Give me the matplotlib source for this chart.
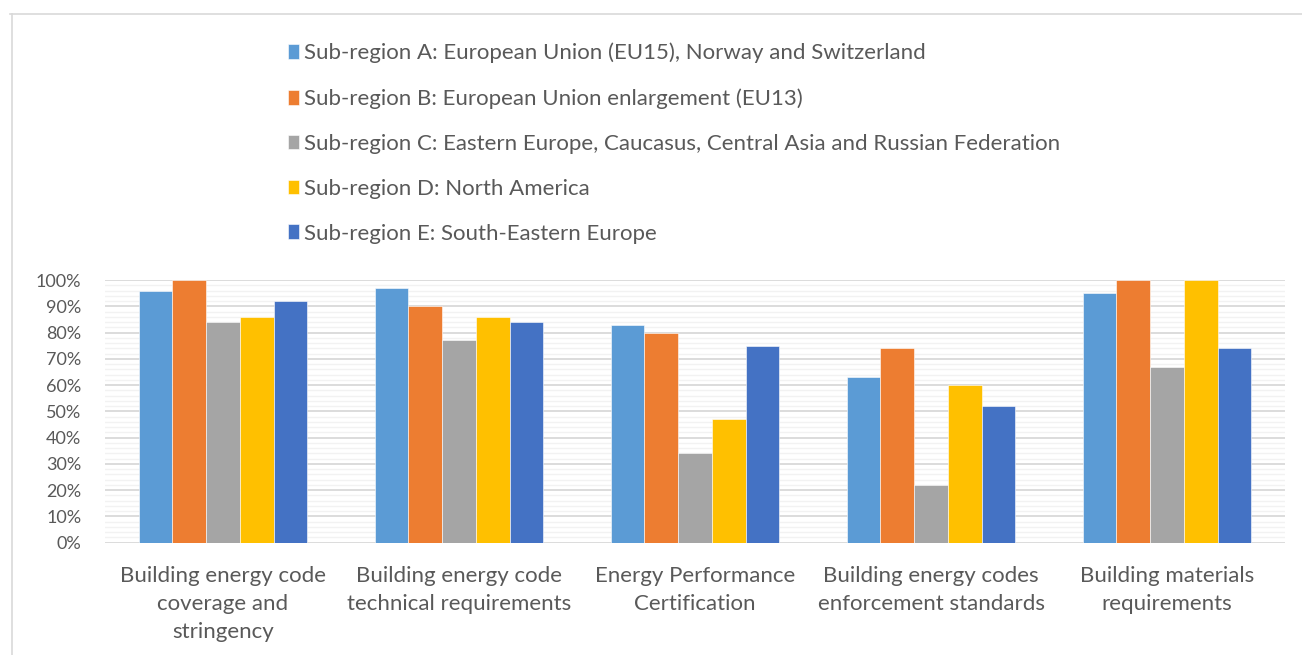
import matplotlib
matplotlib.use("Agg")
import matplotlib.pyplot as plt
from matplotlib.lines import Line2D
from matplotlib.ticker import MultipleLocator, PercentFormatter
import numpy as np

plt.rcParams['font.family'] = ['Lato', 'DejaVu Sans']

categories = ["Building energy code\ncoverage and\nstringency",
              "Building energy code\ntechnical requirements",
              "Energy Performance\nCertification",
              "Building energy codes\nenforcement standards",
              "Building materials\nrequirements"]

series_names = ["Sub-region A: European Union (EU15), Norway and Switzerland",
                "Sub-region B: European Union enlargement (EU13)",
                "Sub-region C: Eastern Europe, Caucasus, Central Asia and Russian Federation",
                "Sub-region D: North America",
                "Sub-region E: South-Eastern Europe"]

sub_a = [0.96, 0.97, 0.83, 0.63, 0.95]
sub_b = [1.00, 0.90, 0.80, 0.74, 1.00]
sub_c = [0.84, 0.77, 0.34, 0.22, 0.67]
sub_d = [0.86, 0.86, 0.47, 0.60, 1.00]
sub_e = [0.92, 0.84, 0.75, 0.52, 0.74]

colors = ["#5B9BD5", "#ED7D31", "#A5A5A5", "#FFC000", "#4472C4"]
txt_col = "#595959"

fig = plt.figure(figsize=(13.02, 6.55), dpi=100)
ax = fig.add_axes([105/1302, 1-542.7/655, 1180/1302, 262.7/655])

x = np.arange(len(categories))
w = 0.143
handles = []
for i, vals in enumerate([sub_a, sub_b, sub_c, sub_d, sub_e]):
    b = ax.bar(x + (i-2)*w, vals, w, color=colors[i], edgecolor="white",
               linewidth=0.4, label=series_names[i], zorder=3)
    handles.append(b)

ax.set_xlim(-0.5, 4.5)
ax.set_ylim(0, 1.0)
ax.yaxis.set_major_locator(MultipleLocator(0.1))
ax.yaxis.set_minor_locator(MultipleLocator(0.02))
ax.yaxis.set_major_formatter(PercentFormatter(1.0, decimals=0))
ax.grid(axis='y', which='major', color="#D9D9D9", linewidth=1.3, zorder=0)
ax.grid(axis='y', which='minor', color="#F2F2F2", linewidth=1.0, zorder=0)
ax.set_axisbelow(True)
for s in ax.spines.values():
    s.set_visible(False)
ax.tick_params(axis='both', which='both', length=0, labelcolor=txt_col)
ax.tick_params(axis='y', pad=17, labelsize=13)
ax.set_xticks(x)
ax.set_xticklabels(categories, linespacing=1.5)
ax.tick_params(axis='x', pad=17, labelsize=16)

fig.legend(handles=handles, loc='upper left', bbox_to_anchor=(279/1302, 1-34/655),
           frameon=False, fontsize=16, labelcolor=txt_col,
           handlelength=0.48, handleheight=0.65, handletextpad=0.25,
           labelspacing=1.12, borderaxespad=0)

# thin chart frame
fig.add_artist(Line2D([10/1302, 1], [1-13.5/655, 1-13.5/655], color="#D9D9D9", linewidth=1.2))
fig.add_artist(Line2D([12/1302, 12/1302], [0, 1-13.5/655], color="#D9D9D9", linewidth=1.2))

fig.savefig("out.png", dpi=100)
